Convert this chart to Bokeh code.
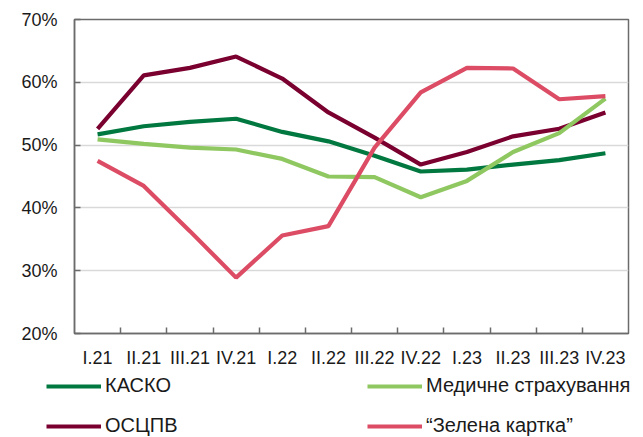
from bokeh.plotting import figure
from bokeh.layouts import column, row
from bokeh.models import FixedTicker, Legend, LegendItem, Range1d
from bokeh.embed import file_html
from bokeh.resources import INLINE

quarters = ["I.21", "II.21", "III.21", "IV.21", "I.22", "II.22", "III.22",
            "IV.22", "I.23", "II.23", "III.23", "IV.23"]
kasko = [51.7, 53.0, 53.7, 54.2, 52.1, 50.6, 48.3, 45.8, 46.1, 46.9, 47.6, 48.7]
medical = [50.9, 50.2, 49.6, 49.3, 47.8, 45.0, 44.9, 41.7, 44.3, 48.9, 51.9, 57.4]
osctpv = [52.6, 61.1, 62.3, 64.1, 60.6, 55.2, 51.2, 46.9, 48.9, 51.4, 52.6, 55.2]
green_card = [47.5, 43.5, 36.3, 28.9, 35.6, 37.1, 49.6, 58.4, 62.3, 62.2, 57.3, 57.8]
y_ticks = [20, 30, 40, 50, 60, 70]

series_names = ["КАСКО", "ОСЦПВ", "Медичне страхування", "\u201cЗелена картка\u201d"]
series_vals = [kasko, osctpv, medical, green_card]
series_colors = ["#00783F", "#7A0030", "#8FC760", "#DC4C64"]
legend_order = ["КАСКО", "Медичне страхування", "ОСЦПВ", "\u201cЗелена картка\u201d"]

n = len(quarters)
xs = [i + 0.5 for i in range(n)]
font = "Liberation Sans"
axis_grey = "#6b6b6b"

p = figure(width=643, height=375, output_backend="svg", toolbar_location=None,
           x_range=Range1d(0, n), y_range=Range1d(20, 70))
p.min_border_left = 74
p.min_border_right = 15
p.min_border_top = 19
p.min_border_bottom = 42
p.background_fill_color = "white"
p.border_fill_color = "white"
p.outline_line_color = axis_grey
p.outline_line_width = 1.5

for name, vals, col in zip(series_names, series_vals, series_colors):
    p.line(xs, vals, line_color=col, line_width=4.2)

# x axis: labels at category centres, tick marks at category boundaries
p.xaxis.ticker = FixedTicker(ticks=xs, minor_ticks=list(range(1, n)))
p.xaxis.major_label_overrides = {x: q for x, q in zip(xs, quarters)}
p.xaxis.major_tick_in = 0
p.xaxis.major_tick_out = 0
p.xaxis.minor_tick_in = 6
p.xaxis.minor_tick_out = 0
p.xaxis.minor_tick_line_color = axis_grey
p.xaxis.minor_tick_line_width = 1.5
p.xaxis.axis_line_color = axis_grey
p.xaxis.axis_line_width = 1.5
p.xaxis.major_label_standoff = 14
p.xaxis.major_label_text_font = font
p.xaxis.major_label_text_font_size = "18px"
p.xaxis.major_label_text_color = "#1a1a1a"
p.xgrid.visible = False

p.yaxis.ticker = FixedTicker(ticks=y_ticks)
p.yaxis.major_label_overrides = {t: f"{t}%" for t in y_ticks}
p.yaxis.major_tick_in = 6
p.yaxis.major_tick_out = 0
p.yaxis.major_tick_line_color = axis_grey
p.yaxis.major_tick_line_width = 1.5
p.yaxis.minor_tick_line_color = None
p.yaxis.axis_line_color = axis_grey
p.yaxis.axis_line_width = 1.5
p.yaxis.major_label_standoff = 17
p.yaxis.major_label_text_font = font
p.yaxis.major_label_text_font_size = "18px"
p.yaxis.major_label_text_color = "#1a1a1a"
p.ygrid.grid_line_color = "#d9d9d9"
p.ygrid.grid_line_width = 1.5

# legend strip below the chart (series lines sit outside its view; only swatches show)
pl = figure(width=643, height=62, output_backend="svg", toolbar_location=None,
            x_axis_location=None, y_axis_location=None,
            x_range=Range1d(0, n), y_range=Range1d(0, 1))
pl.min_border = 0
pl.min_border_left = 0
pl.min_border_right = 0
pl.outline_line_color = None
pl.xgrid.visible = False
pl.ygrid.visible = False
swatch = {}
for name, vals, col in zip(series_names, series_vals, series_colors):
    swatch[name] = pl.line(xs, vals, line_color=col, line_width=4.2)

lg = Legend(items=[LegendItem(label=nm, renderers=[swatch[nm]]) for nm in legend_order],
            location=(46, 0), orientation="horizontal", ncols=2)
lg.glyph_width = 55
lg.glyph_height = 20
lg.label_standoff = 4
lg.label_width = 245
lg.label_height = 20
lg.spacing = 17
lg.padding = 0
lg.margin = 0
lg.border_line_color = None
lg.background_fill_alpha = 0
lg.label_text_font = font
lg.label_text_font_size = "20px"
lg.label_text_color = "#1a1a1a"
pl.add_layout(lg, "center")

open("out.html", "w").write(file_html(column(p, row(pl)), INLINE))
